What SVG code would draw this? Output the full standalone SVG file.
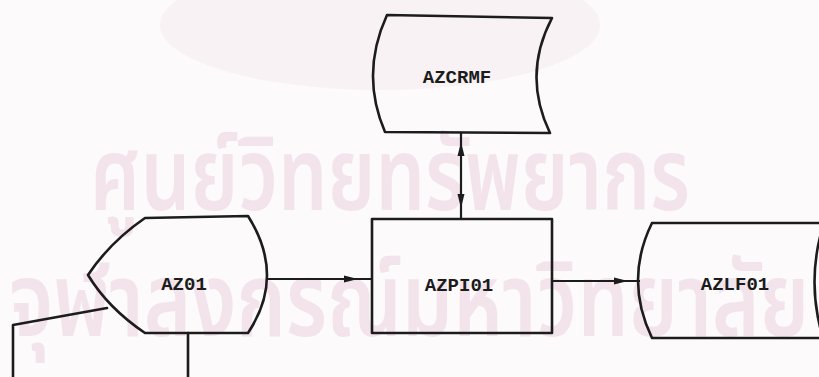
<svg xmlns="http://www.w3.org/2000/svg" width="819" height="377" viewBox="0 0 819 377">
  <defs>
    <style>
      .shape { fill: none; stroke: #1c1c1c; stroke-width: 2.6; stroke-linejoin: round; stroke-linecap: round; }
      .conn { fill: none; stroke: #1c1c1c; stroke-width: 2.2; }
      .label { font-family: "Liberation Mono", "Courier New", monospace; font-weight: bold; font-size: 19px; fill: #1c1c1c; text-anchor: middle; }
      .wm { font-family: "Noto Sans Thai", "Noto Sans", "DejaVu Sans", sans-serif; font-weight: 600; fill: #f3e4eb; text-anchor: middle; }
      .ah { fill: #1c1c1c; }
    </style>
  </defs>
  <rect x="0" y="0" width="819" height="377" fill="#fcfafb"/>
  <g id="watermark">
    <ellipse cx="380" cy="25" rx="220" ry="65" fill="#f9f2f5"/>
    <text class="wm" x="0" y="0" font-size="78" textLength="600" lengthAdjust="spacingAndGlyphs" transform="translate(390,210) scale(1,1.3)">ศูนย์วิทยทรัพยากร</text>
    <text class="wm" x="0" y="0" font-size="76" textLength="800" lengthAdjust="spacingAndGlyphs" transform="translate(409,336) scale(1,1.35)">จุฬาลงกรณ์มหาวิทยาลัย</text>
  </g>
  <g id="connectors">
    <line class="conn" x1="266" y1="279" x2="372" y2="279"/>
    <path class="ah" d="M358,279 L344,275.5 L344,282.5 Z"/>
    <line class="conn" x1="552" y1="281" x2="640" y2="281"/>
    <path class="ah" d="M628,281 L614,277.5 L614,284.5 Z"/>
    <line class="conn" x1="461" y1="132" x2="461" y2="219"/>
    <path class="ah" d="M461,142 L457.5,156 L464.5,156 Z"/>
    <path class="ah" d="M461,208 L457.5,194 L464.5,194 Z"/>
  </g>
  <g id="AZCRMF">
    <path class="shape" d="M387,15 L552,18 Q522,75 550,133 L385,132 Q360,74 387,15 Z"/>
    <text class="label" x="457" y="83">AZCRMF</text>
  </g>
  <g id="AZ01">
    <path class="shape" d="M145,218 L248,216 Q286,276 248,333 L145,333 Q108,308 88,275 Q110,242 145,218 Z"/>
    <text class="label" x="184" y="290">AZ01</text>
  </g>
  <g id="offpage">
    <path class="shape" d="M107,308 L13,325 L13,380"/>
    <path class="shape" d="M188,333 L188,380"/>
  </g>
  <g id="AZPI01">
    <rect class="shape" x="372" y="219" width="180" height="114"/>
    <text class="label" x="459" y="291">AZPI01</text>
  </g>
  <g id="AZLF01">
    <path class="shape" d="M652,223 L830,223 M652,338 L830,338 M652,223 Q624,280 652,338 M823,226 Q806,282 823,338"/>
    <text class="label" x="735" y="290">AZLF01</text>
  </g>
</svg>
